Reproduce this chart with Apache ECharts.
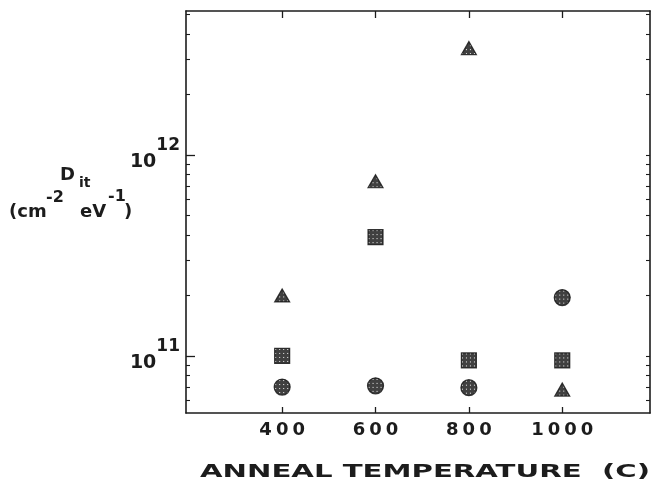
<!DOCTYPE html>
<html><head><meta charset="utf-8">
<script src="https://cdn.jsdelivr.net/npm/echarts@6/dist/echarts.min.js"></script>
<style>html,body{margin:0;padding:0;background:#fff}#c{width:653px;height:488px}</style>
</head><body><div id="c"></div>
<script>
const temperatures = [400, 600, 800, 1000];
const triangleDit = [2.0e11, 7.4e11, 3.4e12, 6.8e10];
const squareDit = [1.0e11, 3.9e11, 9.5e10, 9.5e10];
const circleDit = [7.0e10, 7.1e10, 6.95e10, 1.95e11];
const majorTicks = [1e11, 1e12];
const minorTicks = [6e10, 7e10, 8e10, 9e10, 2e11, 3e11, 4e11, 5e11, 6e11, 7e11, 8e11, 9e11, 2e12, 3e12, 4e12, 5e12];
const xTitle = 'ANNEAL TEMPERATURE  (C)';

const INK = '#1c1c1c';
const FONT = '"DejaVu Sans", sans-serif';

// stippled fill pattern (tile in screen pixels; counter-scaled for symbol transform)
const pc = document.createElement('canvas');
pc.width = 4; pc.height = 4;
const pctx = pc.getContext('2d');
pctx.fillStyle = '#111111'; pctx.fillRect(0, 0, 4, 4);
pctx.fillStyle = '#f0f0f0'; pctx.fillRect(1, 1, 1, 1);
function stipple(w, h) {
  return { image: pc, repeat: 'repeat', scaleX: 2 / w, scaleY: 2 / h };
}

function pairs(ys) { return temperatures.map((t, i) => [t, ys[i]]); }

const mc = document.createElement('canvas').getContext('2d');
mc.font = 'bold 17px ' + FONT;
const titleW = mc.measureText(xTitle).width;
const titleScale = 450 / titleW;

const GRID = { left: 186, right: 3, top: 11, bottom: 75 };
const XMIN = 194, XMAX = 1188, YMIN = 5.2e10, YMAX = 5.2e12;

const lineStyle = { color: INK, width: 1.6 };
const TRI = [15, 13], SQ = [15, 15], CIR = [16, 16];

const chart = echarts.init(document.getElementById('c'), null, { renderer: 'canvas' });
chart.setOption({
  animation: false,
  backgroundColor: '#fff',
  grid: GRID,
  xAxis: [
    {
      type: 'value', min: XMIN, max: XMAX, position: 'bottom',
      axisLine: { show: true, lineStyle },
      axisTick: { show: true, inside: true, length: 6, lineStyle: { color: INK, width: 1.3 }, customValues: temperatures },
      axisLabel: {
        show: true, customValues: temperatures, margin: 8,
        formatter: v => String(v).split('').map(c => '{d|' + c + '}').join(''),
        rich: { d: { color: INK, fontFamily: FONT, fontWeight: 'bold', fontSize: 18, padding: [0, 2, 0, 2] } }
      },
      splitLine: { show: false }
    },
    {
      type: 'value', min: XMIN, max: XMAX, position: 'top',
      axisLine: { show: true, lineStyle },
      axisTick: { show: true, inside: true, length: 7, lineStyle: { color: INK, width: 1.3 }, customValues: temperatures },
      axisLabel: { show: false },
      splitLine: { show: false }
    }
  ],
  yAxis: [
    {
      type: 'log', logBase: 10, min: YMIN, max: YMAX, position: 'left',
      axisLine: { show: true, lineStyle },
      axisTick: { show: true, inside: true, length: 9, lineStyle: { color: INK, width: 1.3 }, customValues: majorTicks },
      axisLabel: {
        show: true, customValues: majorTicks, margin: 6,
        formatter: v => '{b|10}{s|' + Math.round(Math.log10(v)) + '}',
        rich: {
          b: { fontFamily: FONT, fontWeight: 'bold', fontSize: 19, color: INK, padding: [14, 0, 0, 0] },
          s: { fontFamily: FONT, fontWeight: 'bold', fontSize: 17, color: INK, padding: [0, 0, 18, 0] }
        }
      },
      splitLine: { show: false }
    },
    {
      type: 'log', logBase: 10, min: YMIN, max: YMAX, position: 'left',
      axisLine: { show: false },
      axisTick: { show: true, inside: true, length: 4, lineStyle: { color: INK, width: 1.1 }, customValues: minorTicks },
      axisLabel: { show: false },
      splitLine: { show: false }
    },
    {
      type: 'log', logBase: 10, min: YMIN, max: YMAX, position: 'right',
      axisLine: { show: true, lineStyle },
      axisTick: { show: true, inside: true, length: 4, lineStyle: { color: INK, width: 1.1 }, customValues: majorTicks.concat(minorTicks) },
      axisLabel: { show: false },
      splitLine: { show: false }
    }
  ],
  series: [
    { type: 'scatter', name: 'triangle', symbol: 'triangle', symbolSize: TRI, data: pairs(triangleDit), itemStyle: { color: stipple(TRI[0], TRI[1]), borderColor: '#111', borderWidth: 1.2 } },
    { type: 'scatter', name: 'square', symbol: 'rect', symbolSize: SQ, data: pairs(squareDit), itemStyle: { color: stipple(SQ[0], SQ[1]), borderColor: '#111', borderWidth: 1.2 } },
    { type: 'scatter', name: 'circle', symbol: 'circle', symbolSize: CIR, data: pairs(circleDit), itemStyle: { color: stipple(CIR[0], CIR[1]), borderColor: '#111', borderWidth: 1.2 } }
  ],
  graphic: [
    { type: 'text', x: 60, y: 166, style: { text: 'D', font: 'bold 18px ' + FONT, fill: INK } },
    { type: 'text', x: 79, y: 176, style: { text: 'it', font: 'bold 14px ' + FONT, fill: INK } },
    { type: 'text', x: 9, y: 203, style: { text: '(cm', font: 'bold 18px ' + FONT, fill: INK } },
    { type: 'text', x: 46, y: 190, style: { text: '-2', font: 'bold 16px ' + FONT, fill: INK } },
    { type: 'text', x: 80, y: 203, style: { text: 'eV', font: 'bold 18px ' + FONT, fill: INK } },
    { type: 'text', x: 108, y: 189, style: { text: '-1', font: 'bold 16px ' + FONT, fill: INK } },
    { type: 'text', x: 124, y: 203, style: { text: ')', font: 'bold 18px ' + FONT, fill: INK } },
    { type: 'text', x: 200, y: 464, scaleX: titleScale, style: { text: xTitle, font: 'bold 17px ' + FONT, fill: INK } }
  ]
});
</script></body></html>
